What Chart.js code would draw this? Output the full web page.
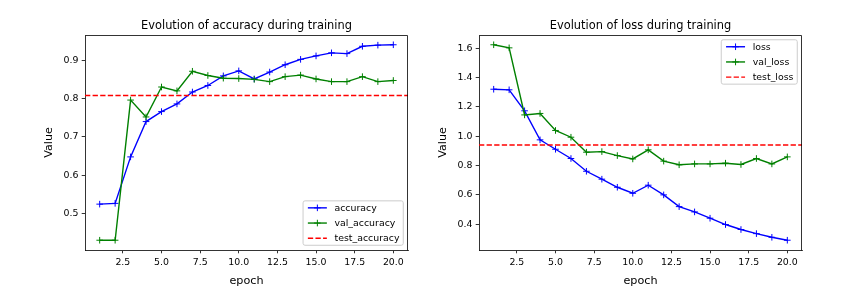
<!DOCTYPE html>
<html><head><meta charset="utf-8">
<script src="https://cdn.jsdelivr.net/npm/chart.js@4.4.1/dist/chart.umd.min.js"></script>
<style>
html,body{margin:0;padding:0;background:#fff;overflow:hidden;width:852px;height:307px;}
canvas{position:absolute;top:0;}
#c1{left:0;} #c2{left:426px;}
</style></head><body>
<canvas id="c1" width="426" height="307"></canvas>
<canvas id="c2" width="426" height="307"></canvas>
<script>
const epochs = [1,2,3,4,5,6,7,8,9,10,11,12,13,14,15,16,17,18,19,20];
const accuracy = [0.525,0.527,0.648,0.740,0.766,0.786,0.817,0.834,0.859,0.872,0.851,0.869,0.888,0.902,0.911,0.919,0.917,0.936,0.939,0.940];
const valAccuracy = [0.431,0.431,0.796,0.752,0.830,0.820,0.871,0.860,0.853,0.852,0.850,0.844,0.857,0.861,0.851,0.844,0.844,0.857,0.844,0.847];
const testAccuracy = 0.808;
const loss = [1.320,1.316,1.173,0.975,0.911,0.848,0.761,0.707,0.652,0.611,0.666,0.600,0.520,0.484,0.441,0.398,0.364,0.336,0.311,0.291];
const valLoss = [1.623,1.602,1.145,1.155,1.039,0.993,0.891,0.895,0.868,0.845,0.907,0.830,0.805,0.811,0.811,0.816,0.807,0.848,0.811,0.859];
const testLoss = 0.940;
const xTickValues = [2.5,5,7.5,10,12.5,15,17.5,20];
const accTickValues = [0.5,0.6,0.7,0.8,0.9];
const lossTickValues = [0.4,0.6,0.8,1.0,1.2,1.4,1.6];

Chart.defaults.font.family = "'DejaVu Sans', sans-serif";
Chart.defaults.color = '#000';

function padLimits(vals) {
  const mn = Math.min(...vals), mx = Math.max(...vals), r = mx - mn;
  return [mn - 0.05 * r, mx + 0.05 * r];
}
const [xMin, xMax] = padLimits(epochs);

const mplPlugin = {
  id: 'mpl',
  afterDraw(chart, args, opts) {
    const ctx = chart.ctx, a = chart.chartArea;
    ctx.save();
    // top & right spines
    ctx.strokeStyle = '#000'; ctx.lineWidth = 0.8;
    ctx.beginPath();
    const t = Math.round(a.top) + 0.5, r = Math.round(a.right) - 0.5, b = Math.round(a.bottom) + 0.5, l = Math.round(a.left) + 0.5;
    ctx.moveTo(l, t); ctx.lineTo(r, t); ctx.lineTo(r, b);
    ctx.stroke();
    // title
    ctx.fillStyle = '#000';
    ctx.font = "11.4px 'DejaVu Sans'";
    ctx.textAlign = 'center'; ctx.textBaseline = 'alphabetic';
    ctx.fillText(opts.title, (a.left + a.right) / 2, a.top - 6);
    // legend
    const fs = 9.4;
    ctx.font = fs + "px 'DejaVu Sans'";
    const ds = chart.data.datasets;
    let maxW = 0;
    ds.forEach(d => { maxW = Math.max(maxW, ctx.measureText(d.label).width); });
    const pad = 3.8, hl = 19, htp = 7.6, rowStart = 7, rowSp = 15.2;
    const w = pad + hl + htp + maxW + pad + 1;
    const h = 2 * rowStart + rowSp * (ds.length - 1);
    const bx = a.right - 4.75 - w;
    const by = opts.loc === 'upper right' ? a.top + 4.75 : a.bottom - 4.75 - h;
    ctx.beginPath();
    const rr = 2;
    ctx.moveTo(bx + rr, by); ctx.lineTo(bx + w - rr, by); ctx.quadraticCurveTo(bx + w, by, bx + w, by + rr);
    ctx.lineTo(bx + w, by + h - rr); ctx.quadraticCurveTo(bx + w, by + h, bx + w - rr, by + h);
    ctx.lineTo(bx + rr, by + h); ctx.quadraticCurveTo(bx, by + h, bx, by + h - rr);
    ctx.lineTo(bx, by + rr); ctx.quadraticCurveTo(bx, by, bx + rr, by);
    ctx.closePath();
    ctx.fillStyle = 'rgba(255,255,255,0.8)'; ctx.fill();
    ctx.strokeStyle = '#cccccc'; ctx.lineWidth = 1; ctx.stroke();
    ds.forEach((d, i) => {
      const cy = by + rowStart + rowSp * i;
      const x0 = bx + pad + 1;
      ctx.strokeStyle = d.borderColor; ctx.lineWidth = d.borderWidth;
      ctx.setLineDash(d.borderDash || []);
      ctx.beginPath(); ctx.moveTo(x0, cy); ctx.lineTo(x0 + hl, cy); ctx.stroke();
      ctx.setLineDash([]);
      if (d.pointRadius > 0) {
        const cx = x0 + hl / 2, pr = d.pointRadius;
        ctx.lineWidth = 1;
        ctx.beginPath(); ctx.moveTo(cx - pr, cy); ctx.lineTo(cx + pr, cy);
        ctx.moveTo(cx, cy - pr); ctx.lineTo(cx, cy + pr); ctx.stroke();
      }
      ctx.fillStyle = '#000'; ctx.textAlign = 'left'; ctx.textBaseline = 'middle';
      ctx.fillText(d.label, x0 + hl + htp, cy + 0.5);
    });
    ctx.restore();
  }
};

function seriesDs(label, vals, color, order) {
  return {
    label, data: epochs.map((e, i) => ({x: e, y: vals[i]})),
    borderColor: color, backgroundColor: color, borderWidth: 1.4,
    pointStyle: 'cross', pointRadius: 3.3, pointHoverRadius: 3.3, pointBorderWidth: 1,
    pointBorderColor: color, tension: 0, fill: false, order
  };
}
function testDs(label, val) {
  return {
    label, data: [{x: xMin, y: val}, {x: xMax, y: val}],
    borderColor: '#ff0000', backgroundColor: '#ff0000', borderWidth: 1.4,
    borderDash: [5.3, 2.3], pointRadius: 0, pointHoverRadius: 0, fill: false, order: 0
  };
}
const axisCommon = {
  grid: {display: true, drawOnChartArea: false, drawTicks: true, tickLength: 3.3, color: '#000', lineWidth: 0.8},
  border: {display: true, color: '#000', width: 0.8}
};
function makeChart(id, cfg) {
  const [yMin, yMax] = padLimits(cfg.yVals);
  return new Chart(document.getElementById(id), {
    type: 'line',
    data: {datasets: cfg.datasets},
    options: {
      responsive: false, animation: false, devicePixelRatio: 1,
      layout: {padding: {top: 35, right: cfg.rightPad, left: 0, bottom: 0}},
      plugins: {legend: {display: false}, tooltip: {enabled: false},
        mpl: {title: cfg.title, loc: cfg.loc}},
      scales: {
        x: {
          type: 'linear', min: xMin, max: xMax,
          afterBuildTicks: s => { s.ticks = xTickValues.map(v => ({value: v})); },
          afterFit: s => { s.height = 57; },
          ticks: {callback: v => Number(v).toFixed(1), color: '#000', font: {size: 9.4}, padding: 3.3, maxRotation: 0, autoSkip: false},
          ...axisCommon,
          title: {display: true, text: 'epoch', color: '#000', font: {size: 11.2}, padding: {top: 0, bottom: 19.6}}
        },
        y: {
          type: 'linear', min: yMin, max: yMax,
          afterBuildTicks: s => { s.ticks = cfg.yTicks.map(v => ({value: v})); },
          afterFit: s => { s.width = cfg.yWidth; },
          ticks: {callback: v => Number(v).toFixed(1), color: '#000', font: {size: 9.4}, padding: 3.3, autoSkip: false},
          ...axisCommon,
          title: {display: true, text: 'Value', color: '#000', font: {size: 11.2}, padding: {top: cfg.yTitlePad, bottom: 0}}
        }
      }
    },
    plugins: [mplPlugin]
  });
}

makeChart('c1', {
  title: 'Evolution of accuracy during training', loc: 'lower right',
  datasets: [seriesDs('accuracy', accuracy, '#0000ff', 2), seriesDs('val_accuracy', valAccuracy, '#008000', 1), testDs('test_accuracy', testAccuracy)],
  yVals: accuracy.concat(valAccuracy), yTicks: accTickValues, yWidth: 85, rightPad: 18, yTitlePad: 42.3
});
makeChart('c2', {
  title: 'Evolution of loss during training', loc: 'upper right',
  datasets: [seriesDs('loss', loss, '#0000ff', 2), seriesDs('val_loss', valLoss, '#008000', 1), testDs('test_loss', testLoss)],
  yVals: loss.concat(valLoss), yTicks: lossTickValues, yWidth: 53, rightPad: 50, yTitlePad: 10.3
});
</script>
</body></html>
